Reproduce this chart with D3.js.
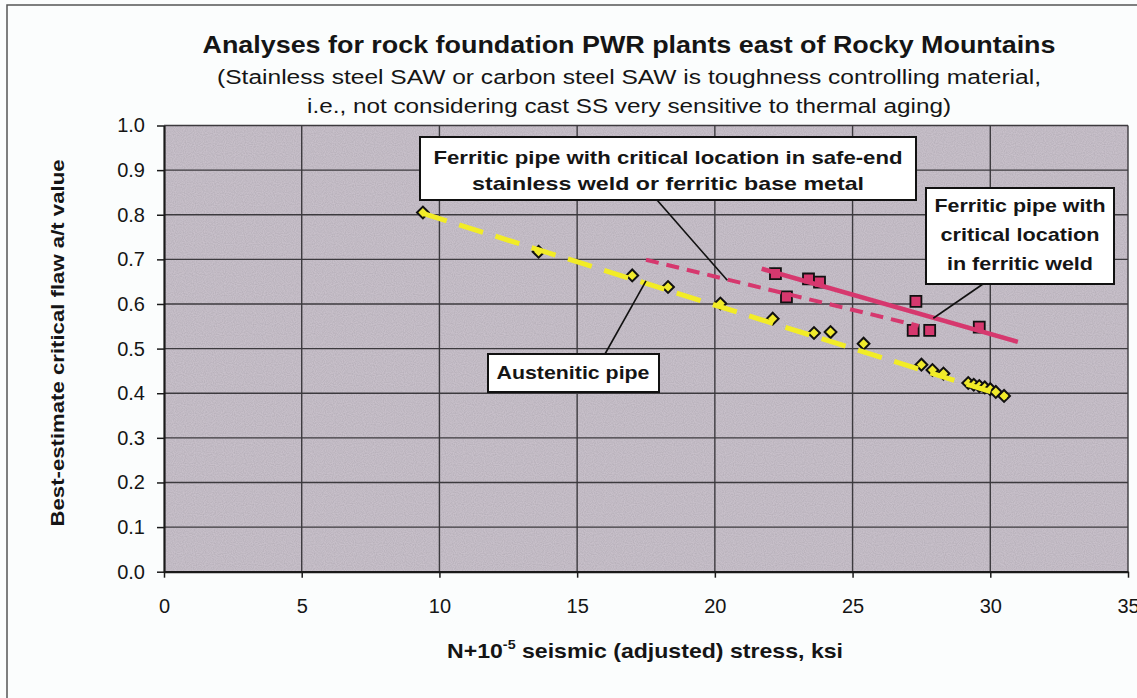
<!DOCTYPE html>
<html lang="en">
<head>
<meta charset="UTF-8">
<script src="https://d3js.org/d3.v7.min.js"></script>
<title>critical flaw vs seismic stress</title>
<style>
body { margin: 0; background: #fbfdfd; }
text { font-family: "Liberation Sans", Arial, sans-serif; fill: #151515; }
</style>
</head>
<body>
<script>

// tick values
var xTicks = [0, 5, 10, 15, 20, 25, 30, 35];
var yTicks = [0, 0.1, 0.2, 0.3, 0.4, 0.5, 0.6, 0.7, 0.8, 0.9, 1.0];

// austenitic pipe (yellow diamonds)
var austX = [9.4, 13.6, 17.0, 18.3, 20.2, 22.1, 23.6, 24.2, 25.4, 27.5, 27.9, 28.3, 29.2, 29.4, 29.6, 29.8, 30.0, 30.2, 30.5];
var austY = [0.805, 0.717, 0.664, 0.638, 0.601, 0.567, 0.535, 0.537, 0.511, 0.464, 0.452, 0.444, 0.423, 0.419, 0.416, 0.413, 0.409, 0.403, 0.394];

// ferritic pipe (pink squares)
var ferrX = [22.2, 22.6, 23.4, 23.8, 27.2, 27.3, 27.8, 29.6];
var ferrY = [0.668, 0.616, 0.656, 0.649, 0.541, 0.606, 0.541, 0.548];

// trend lines (end points)
var austTrend    = [[9.4, 0.803], [30.6, 0.392]];
var weldTrend    = [[21.7, 0.679], [31.0, 0.515]];
var safeEndTrend = [[17.5, 0.699], [27.4, 0.551]];

var titleLines = [
    "Analyses for rock foundation PWR plants east of Rocky Mountains",
    "(Stainless steel SAW or carbon steel SAW is toughness controlling material,",
    "i.e., not considering cast SS very sensitive to thermal aging)"
];

var width = 1137, height = 698;

var svg = d3.select("body").append("svg")
    .attr("width", width).attr("height", height);

// outer frame
svg.append("rect").attr("x", 7).attr("y", 5).attr("width", 1300).attr("height", 900)
    .attr("fill", "none").attr("stroke", "#555").attr("stroke-width", 1.5);

var x = d3.scaleLinear().domain([0, 35]).range([164, 1128]);
var y = d3.scaleLinear().domain([0, 1]).range([571.7, 125.5]);

// grain for the plot fill
var defs = svg.append("defs");
var flt = defs.append("filter").attr("id", "grain").attr("x", 0).attr("y", 0).attr("width", 1).attr("height", 1);
flt.append("feTurbulence").attr("type", "fractalNoise").attr("baseFrequency", 0.9).attr("numOctaves", 1).attr("seed", 3).attr("result", "n");
flt.append("feColorMatrix").attr("in", "n").attr("type", "matrix")
    .attr("values", "0 0 0 0 0.3  0 0 0 0 0.28  0 0 0 0 0.32  0 0 0 0.7 -0.2").attr("result", "m");
flt.append("feComposite").attr("in", "m").attr("in2", "SourceGraphic").attr("operator", "over");

svg.append("rect")
    .attr("x", x(0)).attr("y", y(1))
    .attr("width", x(35) - x(0)).attr("height", y(0) - y(1))
    .attr("fill", "#c8c0ca").attr("filter", "url(#grain)");

// grid
svg.append("g").selectAll("line").data(yTicks.slice(1)).enter().append("line")
    .attr("x1", x(0)).attr("x2", x(35))
    .attr("y1", function(d) { return y(d); }).attr("y2", function(d) { return y(d); })
    .attr("stroke", "#3c3a3e").attr("stroke-width", 1.4);
svg.append("g").selectAll("line").data(xTicks.slice(1)).enter().append("line")
    .attr("y1", y(0)).attr("y2", y(1))
    .attr("x1", function(d) { return x(d); }).attr("x2", function(d) { return x(d); })
    .attr("stroke", "#3c3a3e").attr("stroke-width", 1.4);

// axes
var yAxis = svg.append("g").attr("transform", "translate(" + x(0) + ",0)")
    .call(d3.axisLeft(y).tickValues(yTicks).tickFormat(d3.format(".1f")).tickSize(7).tickPadding(12).tickSizeOuter(0));
var xAxis = svg.append("g").attr("transform", "translate(0," + y(0) + ")")
    .call(d3.axisBottom(x).tickValues(xTicks).tickFormat(d3.format("d")).tickSize(6).tickPadding(21).tickSizeOuter(0));
[xAxis, yAxis].forEach(function(a) {
    a.select(".domain").attr("stroke", "#1a1a1a").attr("stroke-width", 2.2);
    a.selectAll(".tick line").attr("stroke", "#1a1a1a").attr("stroke-width", 1.5);
    a.selectAll(".tick text").attr("font-size", 20).attr("fill", "#151515")
        .style("font-family", "'Liberation Sans', Arial, sans-serif");
});

// trend lines
var line = d3.line().x(function(d) { return x(d[0]); }).y(function(d) { return y(d[1]); });

// markers
var austData = austX.map(function(v, i) { return [v, austY[i]]; });
var ferrData = ferrX.map(function(v, i) { return [v, ferrY[i]]; });

svg.append("g").selectAll("path").data(austData).enter().append("path")
    .attr("d", d3.symbol().type(d3.symbolSquare).size(70))
    .attr("transform", function(d) { return "translate(" + x(d[0]) + "," + y(d[1]) + ") rotate(45)"; })
    .attr("fill", "#f0ea2c").attr("stroke", "#111").attr("stroke-width", 2);

svg.append("g").selectAll("path").data(ferrData).enter().append("path")
    .attr("d", d3.symbol().type(d3.symbolSquare).size(120))
    .attr("transform", function(d) { return "translate(" + x(d[0]) + "," + y(d[1]) + ")"; })
    .attr("fill", "#d6386e").attr("stroke", "#111").attr("stroke-width", 1.8);

svg.append("path").datum(austTrend).attr("d", line)
    .attr("fill", "none").attr("stroke", "#f2ec26").attr("stroke-width", 5)
    .attr("stroke-dasharray", "25,13");
svg.append("path").datum(safeEndTrend).attr("d", line)
    .attr("fill", "none").attr("stroke", "#d6386e").attr("stroke-width", 4)
    .attr("stroke-dasharray", "13,8");
svg.append("path").datum(weldTrend).attr("d", line)
    .attr("fill", "none").attr("stroke", "#d6386e").attr("stroke-width", 4.5);

// title
var tW = [853, 824, 644], tY = [53, 84, 113], tS = [23.5, 20, 20];
titleLines.forEach(function(t, i) {
    svg.append("text").attr("x", 629).attr("y", tY[i])
        .attr("text-anchor", "middle")
        .attr("font-size", tS[i]).attr("font-weight", i === 0 ? "bold" : "normal")
        .attr("textLength", tW[i]).attr("lengthAdjust", "spacingAndGlyphs")
        .text(t);
});

// axis titles
svg.append("text")
    .attr("transform", "translate(64,343) rotate(-90)")
    .attr("text-anchor", "middle").attr("font-size", 19).attr("font-weight", "bold")
    .attr("textLength", 367).attr("lengthAdjust", "spacingAndGlyphs")
    .text("Best-estimate critical flaw a/t value");

var xt = svg.append("text").attr("x", 645).attr("y", 658)
    .attr("text-anchor", "middle").attr("font-size", 21).attr("font-weight", "bold")
    .attr("textLength", 396).attr("lengthAdjust", "spacingAndGlyphs");
xt.append("tspan").text("N+10");
xt.append("tspan").attr("font-size", 13).attr("dy", -9).text("-5");
xt.append("tspan").attr("dy", 9).text(" seismic (adjusted) stress, ksi");

// annotation boxes
var notes = [
    { box: [420, 137, 496, 63], lines: ["Ferritic pipe with critical location in safe-end", "stainless weld or ferritic base metal"],
      ly: [157, 183], lw: [469, 392], cx: 668, from: [657, 200], to: [20.45, 0.653] },
    { box: [926, 188, 188, 96], lines: ["Ferritic pipe with", "critical location", "in ferritic weld"],
      ly: [205, 234, 263], lw: [171, 159, 146], cx: 1020, from: [983, 284], to: [27.93, 0.568] },
    { box: [488, 354, 171, 38], lines: ["Austenitic pipe"],
      ly: [372], lw: [153], cx: 573, from: [605, 354], to: [17.5, 0.652] }
];

notes.forEach(function(n) {
    svg.append("line")
        .attr("x1", n.from[0]).attr("y1", n.from[1])
        .attr("x2", x(n.to[0])).attr("y2", y(n.to[1]))
        .attr("stroke", "#111").attr("stroke-width", 1.6);
    svg.append("rect")
        .attr("x", n.box[0]).attr("y", n.box[1]).attr("width", n.box[2]).attr("height", n.box[3])
        .attr("fill", "#fff").attr("stroke", "#111").attr("stroke-width", 2);
    n.lines.forEach(function(t, i) {
        svg.append("text").attr("x", n.cx).attr("y", n.ly[i]).attr("dy", "0.35em")
            .attr("text-anchor", "middle").attr("font-size", 19).attr("font-weight", "bold")
            .attr("textLength", n.lw[i]).attr("lengthAdjust", "spacingAndGlyphs")
            .text(t);
    });
});

</script>
</body>
</html>
